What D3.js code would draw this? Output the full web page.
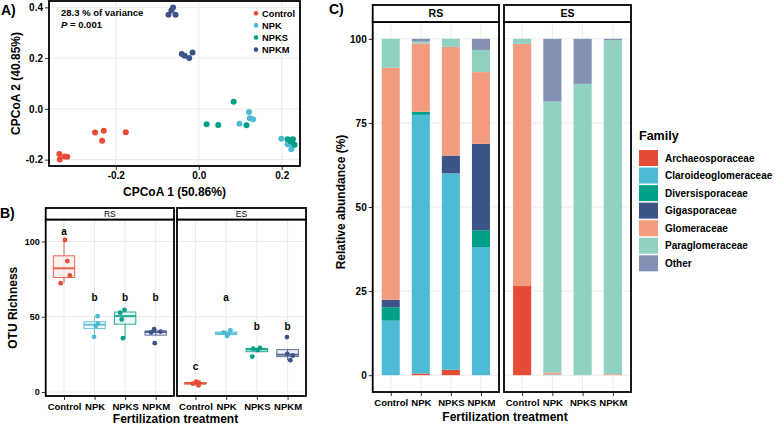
<!DOCTYPE html>
<html>
<head>
<meta charset="utf-8">
<script src="https://cdn.jsdelivr.net/npm/d3@7"></script>
<style>
body { margin: 0; background: #fff; }
svg { font-family: "Liberation Sans", Arial, sans-serif; }
</style>
</head>
<body>
<svg id="svg" width="774" height="425"></svg>
<script>
var treatments = ["Control", "NPK", "NPKS", "NPKM"];
var treatColors = ["#E64B35", "#4DBBD5", "#00A087", "#3C5488"];
var compartments = ["RS", "ES"];

//A) CPCoA scores
var pcoaGroup = ["Control","Control","Control","Control","Control","Control","Control","Control",
                 "NPK","NPK","NPK","NPK","NPK","NPK","NPK","NPK",
                 "NPKS","NPKS","NPKS","NPKS","NPKS","NPKS","NPKS","NPKS",
                 "NPKM","NPKM","NPKM","NPKM","NPKM","NPKM","NPKM","NPKM"];
var pcoaX = [-0.336,-0.335,-0.323,-0.317,-0.250,-0.229,-0.233,-0.176,
             0.121,0.098,0.123,0.131,0.199,0.214,0.223,0.227,
             0.084,0.019,0.047,0.115,0.214,0.227,0.231,0.222,
             -0.073,-0.066,-0.062,-0.056,-0.041,-0.034,-0.023,-0.015];
var pcoaY = [-0.178,-0.199,-0.188,-0.189,-0.093,-0.086,-0.126,-0.092,
             -0.012,-0.059,-0.037,-0.041,-0.118,-0.139,-0.159,-0.143,
             0.028,-0.061,-0.063,-0.064,-0.120,-0.120,-0.141,-0.128,
             0.371,0.388,0.399,0.371,0.216,0.209,0.200,0.222];
var pcoaXTicks = [-0.2, 0.0, 0.2];
var pcoaYTicks = [-0.2, 0.0, 0.2, 0.4];

//B) OTU richness, 4 samples per treatment
var richComp = [];
var richTreat = [];
var richValue = [101, 87, 77.4, 72.3,   50.4, 45.5, 44.0, 36.7,   54.6, 52.7, 48.2, 35.8,   41.8, 40.2, 39.6, 32.5,
                 6.9, 6.2, 5.6, 4.4,    41.0, 39.5, 38.5, 37.2,   29.4, 28.8, 27.9, 23.6,   36.5, 25.4, 24.3, 21.2];
var richJitter = [0.03, 0.11, 0.19, -0.11,  0.10, 0.11, 0.04, -0.02,  -0.02, -0.16, -0.11, -0.07,  -0.05, 0.16, -0.15, -0.03,
                  0.02, 0.11, -0.08, 0.10,  0.14, -0.08, 0.07, 0.03,  0.10, -0.12, 0.02, -0.15,  -0.02, -0.01, 0.17, 0.09];
compartments.forEach(function(c){
    treatments.forEach(function(t){
        for(let i=0;i<4;i++){ richComp.push(c); richTreat.push(t); }
    });
});
var letterComp = ["RS","RS","RS","RS","ES","ES","ES","ES"];
var letterTreat = ["Control","NPK","NPKS","NPKM","Control","NPK","NPKS","NPKM"];
var letterText = ["a","b","b","b","c","a","b","b"];
var letterY = [106.9, 63, 63, 63, 16.8, 62.8, 43.4, 43.4];
var richTicks = [0, 50, 100];

//C) relative abundance (%) per family
var families = ["Archaeosporaceae","Claroideoglomeraceae","Diversisporaceae","Gigasporaceae","Glomeraceae","Paraglomeraceae","Other"];
var familyColors = ["#E64B35","#4DBBD5","#00A087","#3C5488","#F39B7F","#91D1C2","#8491B4"];
var barComp  = ["RS","RS","RS","RS","ES","ES","ES","ES"];
var barTreat = ["Control","NPK","NPKS","NPKM","Control","NPK","NPKS","NPKM"];
var archaeo = [0, 0.5, 1.6, 0, 26.5, 0, 0, 0];
var claro   = [16.2, 76.9, 58.4, 38.1, 0, 0.2, 0, 0];
var diversi = [4.0, 0.9, 0, 5.0, 0, 0, 0, 0];
var giga    = [2.2, 0, 5.3, 25.7, 0, 0, 0, 0];
var glomer  = [69.0, 20.3, 32.3, 21.3, 72.0, 0.6, 0, 0.3];
var paraglo = [8.6, 0.6, 2.4, 6.6, 1.5, 80.6, 86.6, 99.3];
var other   = [0, 0.8, 0, 3.3, 0, 18.6, 13.4, 0.4];
var abundTicks = [0, 25, 50, 75, 100];

var svg = d3.select("#svg");
var gridColor = "#EBEBEB";

function colorOf(t){ return treatColors[treatments.indexOf(t)]; }

function border(x0, y0, x1, y1){
    svg.append("rect").attr("x",x0).attr("y",y0).attr("width",x1-x0).attr("height",y1-y0)
        .attr("fill","none").attr("stroke","#000").attr("stroke-width",1.8);
}

function styleAxis(g, size){
    g.select(".domain").remove();
    g.selectAll(".tick line").attr("stroke","#333").attr("stroke-width",1);
    g.selectAll(".tick text").attr("fill","#000").attr("font-weight","bold").attr("font-size",size);
}

function strip(x0, x1, y0, y1, label, size, weight){
    svg.append("rect").attr("x",x0).attr("y",y0).attr("width",x1-x0).attr("height",y1-y0)
        .attr("fill","#fff").attr("stroke","#000").attr("stroke-width",1.8);
    svg.append("text").attr("x",(x0+x1)/2).attr("y",(y0+y1)/2).attr("dy","0.36em")
        .attr("text-anchor","middle").attr("font-size",size).attr("font-weight",weight).text(label);
}

function drawPanelA(){
    var left = 49, right = 300, top = 1, bottom = 166;
    var x = d3.scaleLinear().domain([-0.361, 0.244]).range([left, right]);
    var y = d3.scaleLinear().domain([-0.225, 0.425]).range([bottom, top]);

    var grid = svg.append("g");
    pcoaXTicks.forEach(function(t){
        grid.append("line").attr("x1",x(t)).attr("x2",x(t)).attr("y1",top).attr("y2",bottom).attr("stroke",gridColor);
    });
    pcoaYTicks.forEach(function(t){
        grid.append("line").attr("x1",left).attr("x2",right).attr("y1",y(t)).attr("y2",y(t)).attr("stroke",gridColor);
    });

    svg.append("g").selectAll("circle").data(pcoaX).enter().append("circle")
        .attr("cx",function(d){ return x(d); })
        .attr("cy",function(d,i){ return y(pcoaY[i]); })
        .attr("r",3)
        .attr("fill",function(d,i){ return colorOf(pcoaGroup[i]); });

    var xAxis = svg.append("g").attr("transform","translate(0,"+bottom+")")
        .call(d3.axisBottom(x).tickValues(pcoaXTicks).tickSize(4).tickPadding(2).tickFormat(function(d){ return d.toFixed(1); }));
    styleAxis(xAxis, 10);
    var yAxis = svg.append("g").attr("transform","translate("+left+",0)")
        .call(d3.axisLeft(y).tickValues(pcoaYTicks).tickSize(4).tickPadding(2).tickFormat(function(d){ return d.toFixed(1); }));
    styleAxis(yAxis, 10);

    border(left, top, right, bottom);

    svg.append("text").attr("x",61).attr("y",16).attr("font-size",9.5).attr("font-weight","bold").text("28.3 % of variance");
    var p = svg.append("text").attr("x",61).attr("y",28).attr("font-size",9.5).attr("font-weight","bold");
    p.append("tspan").attr("font-style","italic").text("P");
    p.append("tspan").text(" = 0.001");

    //legend
    treatments.forEach(function(t,i){
        svg.append("circle").attr("cx",256).attr("cy",13.3+i*12.1).attr("r",2.3).attr("fill",treatColors[i]);
        svg.append("text").attr("x",262).attr("y",13.3+i*12.1).attr("dy","0.36em")
            .attr("font-size",9.3).attr("font-weight","bold").text(t);
    });

    svg.append("text").attr("x",(left+right)/2).attr("y",196).attr("text-anchor","middle")
        .attr("font-size",12).attr("font-weight","bold").text("CPCoA 1 (50.86%)");
    svg.append("text").attr("transform","translate(19.5,"+((top+bottom)/2)+") rotate(-90)")
        .attr("text-anchor","middle").attr("font-size",12).attr("font-weight","bold").text("CPCoA 2 (40.85%)");
    svg.append("text").attr("x",1).attr("y",15).attr("font-size",14).attr("font-weight","bold").text("A)");
}

function drawPanelB(){
    var stripTop = 208, top = 219.5, bottom = 396;
    var panels = {RS:[45.7,174], ES:[177,306]};
    var y = d3.scaleLinear().domain([-2.6, 114.6]).range([bottom, top]);

    compartments.forEach(function(c){
        var x0 = panels[c][0], x1 = panels[c][1];
        var x = d3.scalePoint().domain(treatments).range([x0, x1]).padding(0.6);
        var step = x.step();

        var grid = svg.append("g");
        richTicks.forEach(function(t){
            grid.append("line").attr("x1",x0).attr("x2",x1).attr("y1",y(t)).attr("y2",y(t)).attr("stroke",gridColor);
        });
        treatments.forEach(function(t){
            grid.append("line").attr("x1",x(t)).attr("x2",x(t)).attr("y1",top).attr("y2",bottom).attr("stroke",gridColor);
        });

        //boxplots
        treatments.forEach(function(t){
            var vals = richValue.filter(function(v,i){ return richComp[i]===c && richTreat[i]===t; }).sort(d3.ascending);
            var q1 = d3.quantile(vals,0.25), med = d3.quantile(vals,0.5), q3 = d3.quantile(vals,0.75);
            var iqr = q3 - q1;
            var lo = d3.min(vals.filter(function(v){ return v >= q1 - 1.5*iqr; }));
            var hi = d3.max(vals.filter(function(v){ return v <= q3 + 1.5*iqr; }));
            var col = colorOf(t);
            var cx = x(t), bw = step*0.7;
            var g = svg.append("g").attr("stroke",col).attr("stroke-opacity",0.85);
            g.append("line").attr("x1",cx).attr("x2",cx).attr("y1",y(hi)).attr("y2",y(q3)).attr("stroke-width",1);
            g.append("line").attr("x1",cx).attr("x2",cx).attr("y1",y(q1)).attr("y2",y(lo)).attr("stroke-width",1);
            g.append("rect").attr("x",cx-bw/2).attr("width",bw).attr("y",y(q3)).attr("height",Math.max(y(q1)-y(q3),1))
                .attr("fill",col).attr("fill-opacity",0.08).attr("stroke-width",1);
            g.append("line").attr("x1",cx-bw/2).attr("x2",cx+bw/2).attr("y1",y(med)).attr("y2",y(med)).attr("stroke-width",2);
        });

        //jittered samples
        richValue.forEach(function(v,i){
            if(richComp[i]!==c) return;
            svg.append("circle").attr("cx",x(richTreat[i]) + richJitter[i]*step).attr("cy",y(v))
                .attr("r",2.4).attr("fill",colorOf(richTreat[i]));
        });

        //letters
        letterText.forEach(function(l,i){
            if(letterComp[i]!==c) return;
            svg.append("text").attr("x",x(letterTreat[i])).attr("y",y(letterY[i])).attr("dy","0.36em")
                .attr("text-anchor","middle").attr("font-size",10).attr("font-weight","bold").text(l);
        });

        var xAxis = svg.append("g").attr("transform","translate(0,"+bottom+")")
            .call(d3.axisBottom(x).tickSize(4).tickPadding(3));
        styleAxis(xAxis, 9.5);
        if(c==="RS"){
            var yAxis = svg.append("g").attr("transform","translate("+x0+",0)")
                .call(d3.axisLeft(y).tickValues(richTicks).tickSize(4).tickPadding(2));
            styleAxis(yAxis, 9);
        }
        border(x0, top, x1, bottom);
        strip(x0, x1, stripTop, top, c, 8.5, "normal");
    });

    svg.append("text").attr("x",175.5).attr("y",423).attr("text-anchor","middle")
        .attr("font-size",12).attr("font-weight","bold").text("Fertilization treatment");
    svg.append("text").attr("transform","translate(16.5,"+((top+bottom)/2)+") rotate(-90)")
        .attr("text-anchor","middle").attr("font-size",12).attr("font-weight","bold").text("OTU Richness");
    svg.append("text").attr("x",0).attr("y",218).attr("font-size",14).attr("font-weight","bold").text("B)");
}

function drawPanelC(){
    var stripTop = 5, top = 22, bottom = 392;
    var panels = {RS:[372.7,499], ES:[504,631]};
    var y = d3.scaleLinear().domain([-5, 105]).range([bottom, top]);
    var famValues = [archaeo, claro, diversi, giga, glomer, paraglo, other];

    var table = barTreat.map(function(t,i){
        var row = {comp: barComp[i], treat: t};
        families.forEach(function(f,k){ row[f] = famValues[k][i]; });
        return row;
    });
    var series = d3.stack().keys(families)(table);

    compartments.forEach(function(c){
        var x0 = panels[c][0], x1 = panels[c][1];
        var x = d3.scalePoint().domain(treatments).range([x0, x1]).padding(0.6);
        var bw = x.step()*0.6;

        var grid = svg.append("g");
        abundTicks.forEach(function(t){
            grid.append("line").attr("x1",x0).attr("x2",x1).attr("y1",y(t)).attr("y2",y(t)).attr("stroke",gridColor);
        });
        treatments.forEach(function(t){
            grid.append("line").attr("x1",x(t)).attr("x2",x(t)).attr("y1",top).attr("y2",bottom).attr("stroke",gridColor);
        });

        series.forEach(function(s,k){
            svg.append("g").attr("fill",familyColors[k]).selectAll("rect")
                .data(s.filter(function(d){ return d.data.comp===c; })).enter()
                .append("rect")
                .attr("x",function(d){ return x(d.data.treat) - bw/2; })
                .attr("width",bw)
                .attr("y",function(d){ return y(d[1]); })
                .attr("height",function(d){ return y(d[0]) - y(d[1]); });
        });

        var xAxis = svg.append("g").attr("transform","translate(0,"+bottom+")")
            .call(d3.axisBottom(x).tickSize(4).tickPadding(3));
        styleAxis(xAxis, 9.5);
        if(c==="RS"){
            var yAxis = svg.append("g").attr("transform","translate("+x0+",0)")
                .call(d3.axisLeft(y).tickValues(abundTicks).tickSize(4).tickPadding(2));
            styleAxis(yAxis, 10);
        }
        border(x0, top, x1, bottom);
        strip(x0, x1, stripTop, top, c, 10.5, "bold");
    });

    svg.append("text").attr("x",505).attr("y",420.5).attr("text-anchor","middle")
        .attr("font-size",12).attr("font-weight","bold").text("Fertilization treatment");
    svg.append("text").attr("transform","translate(345,202) rotate(-90)")
        .attr("text-anchor","middle").attr("font-size",12).attr("font-weight","bold").text("Relative abundance (%)");
    svg.append("text").attr("x",329).attr("y",14).attr("font-size",14).attr("font-weight","bold").text("C)");

    //legend
    svg.append("text").attr("x",639).attr("y",140).attr("font-size",12.5).attr("font-weight","bold").text("Family");
    families.forEach(function(f,i){
        svg.append("rect").attr("x",639).attr("y",150+i*17.55).attr("width",19).attr("height",16).attr("fill",familyColors[i]);
        svg.append("text").attr("x",665).attr("y",158+i*17.55).attr("dy","0.36em")
            .attr("font-size",10).attr("font-weight","bold").text(f);
    });
}

drawPanelA();
drawPanelB();
drawPanelC();
</script>
</body>
</html>
